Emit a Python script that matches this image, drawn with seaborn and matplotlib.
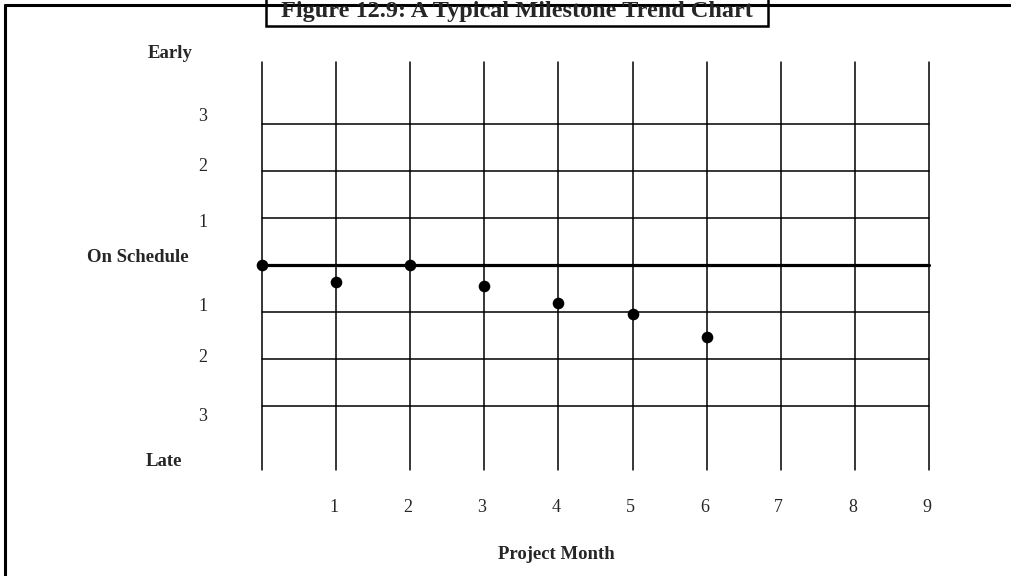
import seaborn as sns
import pandas as pd
import matplotlib.pyplot as plt
from matplotlib.lines import Line2D
from matplotlib.patches import Rectangle

# 数据
months = [0, 1, 2, 3, 4, 5, 6]
deviation = [0.0, -0.36, 0.0, -0.44, -0.8, -1.04, -1.52]   # 正数=提前, 负数=延后
month_ticks = [1, 2, 3, 4, 5, 6, 7, 8, 9]
grid_levels = [3, 2, 1, -1, -2, -3]
level_labels = ["3", "2", "1", "1", "2", "3"]
title = "Figure 12.9: A Typical Milestone Trend Chart"

df = pd.DataFrame({"month": months, "deviation": deviation})

sns.set_style("white")
plt.rcParams["font.family"] = ["Liberation Serif", "DejaVu Serif"]

W, H = 1011, 576
fig = plt.figure(figsize=(W / 100, H / 100), dpi=100)
ax = fig.add_axes([262 / W, 1 - 470 / H, 667 / W, 408 / H])
ax.axis("off")

# 网格
for m in range(0, 10):
    ax.axvline(m, color="black", lw=1.1, clip_on=False)
for lv in grid_levels:
    ax.plot([0, 9], [lv, lv], color="black", lw=1.1, clip_on=False)
ax.plot([0, 9], [0, 0], color="black", lw=2.3, clip_on=False)

sns.scatterplot(data=df, x="month", y="deviation", color="black", s=70,
                edgecolor="black", linewidth=0, zorder=5, clip_on=False, ax=ax)
ax.set_xlim(0, 9)
ax.set_ylim(-4.36, 4.32)

# 纵轴文字
label_y = [3.17, 2.09, 0.91, -0.89, -1.96, -3.23]
for y, t in zip(label_y, level_labels):
    ax.text(-0.8, y, t, ha="center", va="center", fontsize=13, clip_on=False)
ax.text(-1.24, 4.5, "Early", ha="center", va="center", fontsize=13.5, fontweight="bold")
ax.text(-1.68, 0.17, "On Schedule", ha="center", va="center", fontsize=13.5, fontweight="bold")
ax.text(-1.32, -4.17, "Late", ha="center", va="center", fontsize=13.5, fontweight="bold")

# 横轴文字
for m in month_ticks:
    ax.text(m - 0.03, -5.16, str(m), ha="center", va="center", fontsize=13)
ax.text(3.97, -6.16, "Project Month", ha="center", va="center", fontsize=13.5, fontweight="bold")

# 外框和标题框
fig.add_artist(Line2D([5 / W, 1], [1 - 5 / H, 1 - 5 / H], color="black", lw=2.2))
fig.add_artist(Line2D([5 / W, 5 / W], [0, 1 - 5 / H], color="black", lw=2.2))
fig.add_artist(Rectangle((266 / W, 1 - 26 / H), 502 / W, 40 / H, facecolor="white",
                         edgecolor="black", lw=1.8, transform=fig.transFigure))
fig.text(517 / W, 1 - 12 / H, title, ha="center", va="center", fontsize=17.5, fontweight="bold")

fig.savefig("out.png", dpi=100)
